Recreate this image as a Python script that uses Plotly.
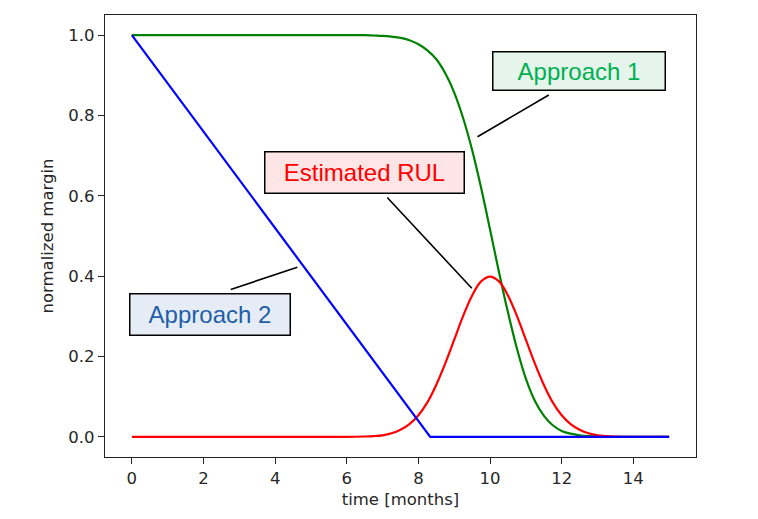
import plotly.graph_objects as go

# ---- data ----
t_green = [0, 1, 2, 3, 4, 5, 6, 6.5, 6.75, 7.0, 7.25, 7.5, 7.75, 8.0, 8.25, 8.5, 8.75, 9.0, 9.25,
           9.5, 9.75, 10.0, 10.25, 10.5, 10.75, 11.0, 11.25, 11.5, 11.75, 12.0, 12.25, 12.5, 12.75,
           13.0, 13.5, 14, 15]
v_green = [1.0, 1.0, 1.0, 1.0, 1.0, 1.0, 1.0, 1.0, 0.999, 0.998, 0.996, 0.993, 0.987, 0.977, 0.962,
           0.94, 0.905, 0.857, 0.793, 0.714, 0.62, 0.516, 0.41, 0.31, 0.22, 0.145, 0.09, 0.053, 0.029,
           0.015, 0.008, 0.004, 0.002, 0.001, 0.0, 0.0, 0.0]

t_red = [0, 1, 2, 3, 4, 5, 6, 6.5, 6.75, 7.0, 7.25, 7.5, 7.75, 8.0, 8.25, 8.5, 8.75, 9.0, 9.25,
         9.5, 9.75, 10.0, 10.25, 10.5, 10.75, 11.0, 11.25, 11.5, 11.75, 12.0, 12.25, 12.5, 12.75,
         13.0, 13.25, 13.5, 14.0, 15.0]
v_red = [0.0, 0.0, 0.0, 0.0, 0.0, 0.0, 0.0, 0.001, 0.002, 0.004, 0.009, 0.018, 0.032, 0.054, 0.086,
         0.130, 0.183, 0.242, 0.301, 0.352, 0.387, 0.399, 0.387, 0.352, 0.301, 0.242, 0.183, 0.130,
         0.086, 0.054, 0.032, 0.018, 0.009, 0.004, 0.002, 0.001, 0.0, 0.0]

t_blue = [0, 8.33, 15]
v_blue = [1.0, 0.0, 0.0]

x_ticks = [0, 2, 4, 6, 8, 10, 12, 14]
y_ticks = [0.0, 0.2, 0.4, 0.6, 0.8, 1.0]

labels = ["Approach 1", "Estimated RUL", "Approach 2"]
label_pos = [(12.48, 0.911), (6.49, 0.658), (2.17, 0.304)]
label_line = [((11.64, 0.851), (9.65, 0.747)),
              ((7.13, 0.596), (9.49, 0.370)),
              ((2.76, 0.367), (4.62, 0.422))]
label_color = ["#00b050", "#ff0000", "#1f5ea8"]
label_bg = ["#e6f5ec", "#ffe5e5", "#e6ecf5"]
label_size = [(171, 37), (198, 40), (159, 40)]

fig = go.Figure()
fig.add_trace(go.Scatter(x=t_green, y=v_green, mode="lines",
                         line=dict(color="green", width=2.2, shape="spline", smoothing=1.0)))
fig.add_trace(go.Scatter(x=t_red, y=v_red, mode="lines",
                         line=dict(color="red", width=2.2, shape="spline", smoothing=1.0)))
fig.add_trace(go.Scatter(x=t_blue, y=v_blue, mode="lines",
                         line=dict(color="blue", width=2.2)))

for (p0, p1) in label_line:
    fig.add_shape(type="line", xref="x", yref="y", x0=p0[0], y0=p0[1], x1=p1[0], y1=p1[1],
                  line=dict(color="black", width=1.6))

for txt, (px, py), col, bg, (w, h) in zip(labels, label_pos, label_color, label_bg, label_size):
    fig.add_annotation(x=px, y=py, xref="x", yref="y", text=txt, showarrow=False,
                       font=dict(family="Liberation Sans, Arial", size=24, color=col),
                       bgcolor=bg, bordercolor="black", borderwidth=1.5, borderpad=0,
                       width=w, height=h, align="center", valign="middle")

axis_font = dict(family="DejaVu Sans", size=16.5, color="#262626")
fig.update_layout(
    width=750, height=511,
    margin=dict(l=97, r=62, t=7, b=62),
    paper_bgcolor="white", plot_bgcolor="white",
    showlegend=False,
    xaxis=dict(range=[-0.75, 15.75], tickvals=x_ticks, ticks="outside", ticklen=6, tickwidth=1.2,
               tickcolor="#222", showline=True, linecolor="#222", linewidth=1.3, mirror=True,
               showgrid=False, zeroline=False, tickfont=axis_font,
               title=dict(text="time [months]", font=axis_font, standoff=6)),
    yaxis=dict(range=[-0.05, 1.05], tickvals=y_ticks, tickformat=".1f", ticks="outside", ticklen=6,
               tickwidth=1.2, tickcolor="#222", showline=True, linecolor="#222", linewidth=1.3,
               mirror=True, showgrid=False, zeroline=False, tickfont=axis_font,
               title=dict(text="normalized margin", font=axis_font, standoff=10)),
)

fig.write_html("out.html")
